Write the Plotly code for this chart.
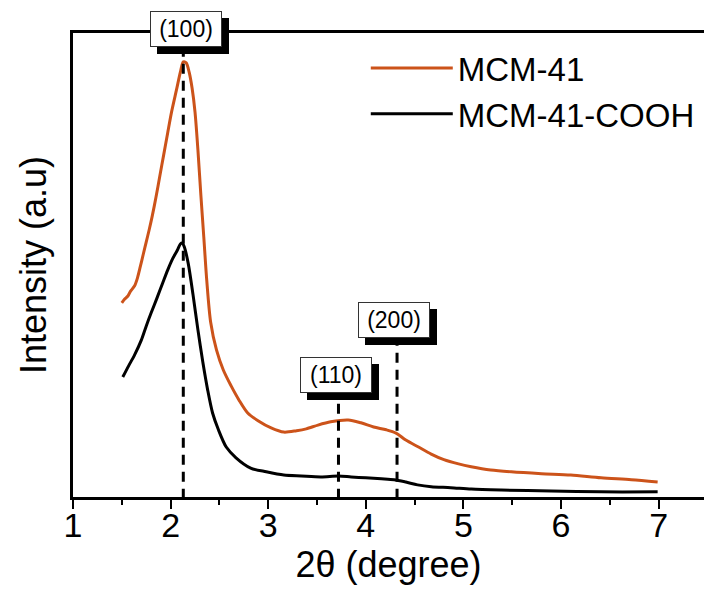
import plotly.graph_objects as go

# Small-angle XRD patterns (2-theta in degrees, intensity in arbitrary units)
two_theta_mcm41 = [1.50, 1.53, 1.56, 1.59, 1.63, 1.66, 1.69, 1.72, 1.75, 1.78,
                   1.81, 1.85, 1.89, 1.93, 1.97, 2.01, 2.06, 2.10, 2.13, 2.16,
                   2.19, 2.22, 2.25, 2.28, 2.31, 2.34, 2.37, 2.41, 2.47, 2.54,
                   2.62, 2.70, 2.79, 2.90, 3.03, 3.16, 3.29, 3.39, 3.51, 3.64,
                   3.82, 3.95, 4.08, 4.21, 4.31, 4.41, 4.54, 4.67, 4.80, 4.95,
                   5.08, 5.28, 5.49, 5.80, 6.10, 6.41, 6.72, 6.99]
intensity_mcm41 = [42.0, 42.8, 43.4, 44.5, 45.6, 47.3, 49.8, 52.4, 55.0, 57.6,
                   60.4, 64.6, 69.2, 73.8, 78.4, 82.9, 87.6, 91.4, 93.6, 93.4,
                   91.4, 88.0, 82.9, 74.7, 65.1, 56.1, 46.9, 37.9, 31.9, 27.6,
                   24.2, 21.2, 18.4, 16.7, 15.2, 14.3, 14.6, 15.0, 15.8, 16.5,
                   16.9, 16.3, 15.4, 14.8, 14.1, 12.6, 11.1, 9.6, 8.4, 7.5,
                   6.9, 6.2, 5.8, 5.4, 5.1, 4.5, 4.1, 3.6]

two_theta_cooh = [1.51, 1.57, 1.63, 1.70, 1.75, 1.80, 1.86, 1.92, 1.97, 2.02,
                  2.07, 2.10, 2.12, 2.14, 2.18, 2.23, 2.28, 2.33, 2.38, 2.43,
                  2.49, 2.57, 2.67, 2.82, 2.98, 3.16, 3.34, 3.54, 3.72, 3.85,
                  4.00, 4.16, 4.29, 4.41, 4.53, 4.67, 4.87, 5.08, 5.39, 5.90,
                  6.41, 6.99]
intensity_cooh = [26.1, 28.5, 30.8, 34.0, 37.0, 39.8, 43.0, 46.3, 49.0, 51.4,
                  53.3, 54.6, 54.8, 54.0, 50.5, 43.7, 36.2, 29.3, 23.3, 18.4,
                  14.8, 11.1, 8.8, 6.6, 5.8, 5.1, 4.9, 4.7, 4.9, 4.7,
                  4.5, 4.3, 4.1, 3.6, 3.0, 2.6, 2.4, 2.1, 1.9, 1.7,
                  1.5, 1.5]

series_names = ["MCM-41", "MCM-41-COOH"]
series_colors = ["#CC531A", "#000000"]

# Indexed reflections of the hexagonal mesostructure
reflection_labels = ["(100)", "(110)", "(200)"]
reflection_2theta = [2.13, 3.72, 4.32]

# Label box placement (y centre in axis units, nudges in px)
label_y = [99.8, 26.6, 38.3]
label_yshift = [4, 0, 0]
label_xshift = [3, -2, -3]

FONT = "Arial, 'Liberation Sans', sans-serif"

fig = go.Figure()
for xs, ys, name, color in zip([two_theta_mcm41, two_theta_cooh],
                               [intensity_mcm41, intensity_cooh],
                               series_names, series_colors):
    fig.add_trace(go.Scatter(x=xs, y=ys, mode="lines", name=name,
                             line=dict(color=color, width=3, shape="spline",
                                       smoothing=0.8)))

# Dashed guide lines from the axis up to each label
for xr, yl in zip(reflection_2theta, label_y):
    fig.add_shape(type="line", xref="x", yref="y", x0=xr, x1=xr, y0=0, y1=yl,
                  line=dict(color="black", width=3, dash="10px,7px"),
                  layer="above")

# Boxed labels with a solid drop shadow behind each
for lab, xr, yl, dx, dy in zip(reflection_labels, reflection_2theta, label_y,
                               label_xshift, label_yshift):
    common = dict(x=xr, y=yl, xref="x", yref="y", showarrow=False,
                  width=70, height=34, borderpad=0, borderwidth=1,
                  xanchor="center", yanchor="middle")
    fig.add_annotation(**common, text=" ", xshift=dx + 7, yshift=dy - 7,
                       bgcolor="black", bordercolor="black",
                       font=dict(family=FONT, size=23, color="black"))
    fig.add_annotation(**common, text=lab, xshift=dx, yshift=dy,
                       bgcolor="white", bordercolor="#333333",
                       font=dict(family=FONT, size=23, color="black"))

fig.update_layout(
    width=704, height=592,
    margin=dict(l=73, r=0, t=33, b=95),
    plot_bgcolor="white", paper_bgcolor="white",
    font=dict(family=FONT, color="black"),
    showlegend=True,
    legend=dict(x=0.464, y=0.985, xanchor="left", yanchor="top",
                font=dict(family=FONT, size=33, color="black"),
                itemwidth=82, bgcolor="rgba(0,0,0,0)", borderwidth=0,
                tracegroupgap=0),
    xaxis=dict(range=[1, 7.465], showline=True, linewidth=3, linecolor="black",
               mirror=True, showgrid=False, zeroline=False,
               ticks="outside", ticklen=9, tickwidth=2, tickcolor="black",
               tickmode="linear", tick0=1, dtick=1, ticklabelstandoff=-13,
               tickfont=dict(family=FONT, size=34, color="black"),
               minor=dict(ticks="outside", ticklen=5, tickwidth=2,
                          tickcolor="black", dtick=0.5, showgrid=False),
               title=dict(text="2θ (degree)", standoff=10,
                          font=dict(family=FONT, size=36, color="black"))),
    yaxis=dict(range=[0.4, 99.8], showline=True, linewidth=3, linecolor="black",
               mirror=False, showgrid=False, zeroline=False,
               showticklabels=False, ticks="",
               title=dict(text="Intensity (a.u)", standoff=13,
                          font=dict(family=FONT, size=36, color="black"))),
)

fig.write_html("out.html")
